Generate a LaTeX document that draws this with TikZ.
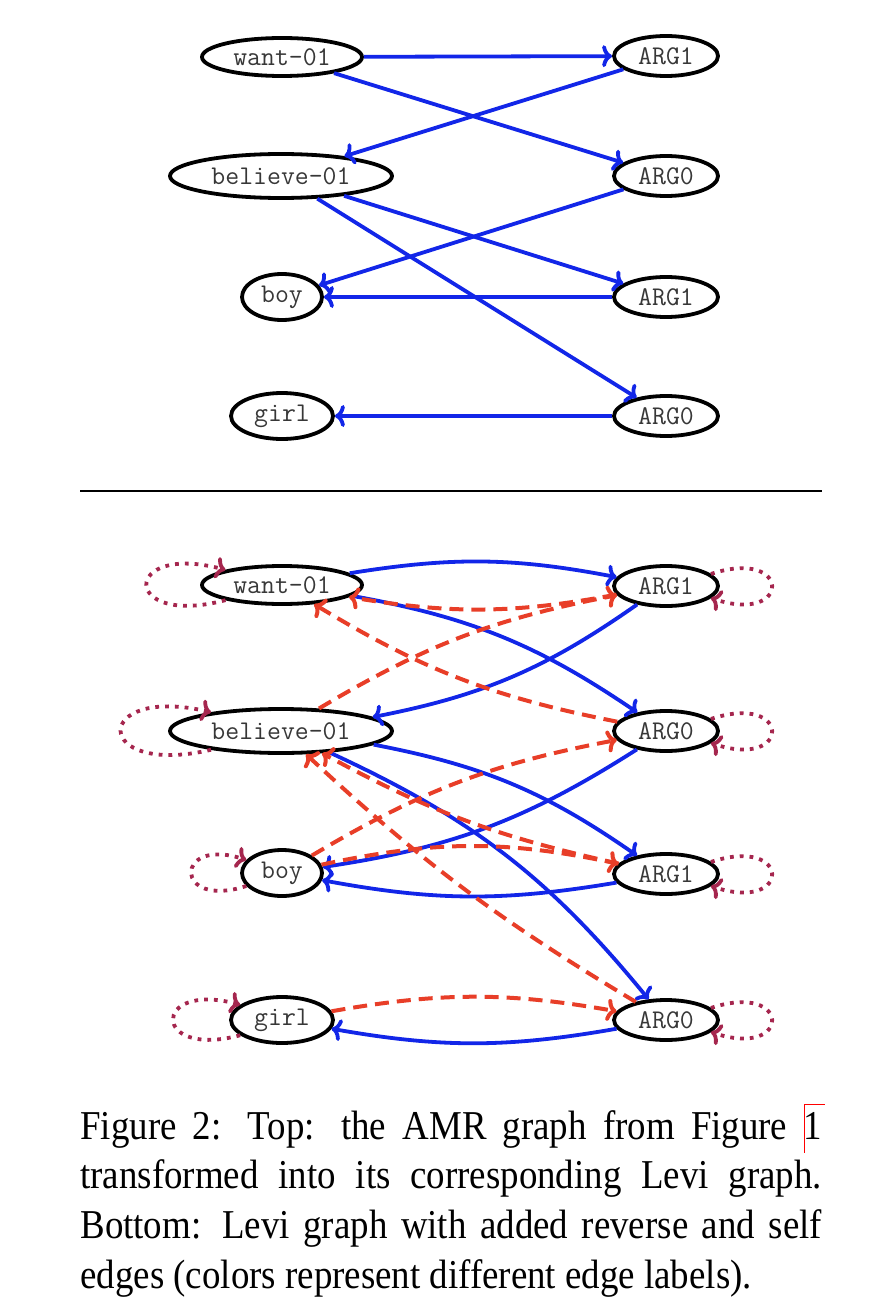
\documentclass[tikz,border=0pt]{standalone}
\usepackage{fontspec}
\setmainfont{Liberation Serif}
\usetikzlibrary{shapes.geometric,arrows.meta}
\definecolor{edgeblue}{RGB}{18,38,232}
\definecolor{edgered}{RGB}{232,62,40}
\definecolor{loopcol}{RGB}{165,38,78}
\definecolor{txtgray}{RGB}{55,55,55}
\newcommand\reflinkbox[1]{\leavevmode\rlap{\color{red}\vrule width 0.4pt height 0.85em depth 0.33em\vrule width 0.57em height 0.85em depth -0.83em}#1}
\begin{document}
\begin{tikzpicture}[x=0.5pt,y=-0.5pt,
  amr/.style={ellipse,draw=black,line width=1.9pt,inner sep=0pt,
    font=\ttfamily\fontsize{13.5}{16}\selectfont,text=txtgray},
  wantbox/.style={amr,minimum width=80pt,minimum height=19pt},
  believebox/.style={amr,minimum width=111pt,minimum height=22pt},
  boybox/.style={amr,minimum width=40pt,minimum height=23pt},
  girlbox/.style={amr,minimum width=51pt,minimum height=23pt},
  argbox/.style={amr,minimum width=52pt,minimum height=20pt},
  tip/.style={-{Computer Modern Rightarrow[length=5pt,width=11pt]}},
  fwd/.style={draw=edgeblue,line width=1.9pt,tip},
  rev/.style={draw=edgered,line width=2pt,dash pattern=on 7pt off 4pt,tip},
  selfedge/.style={draw=loopcol,line width=1.9pt,dash pattern=on 1.9pt off 3pt,tip},
]
\useasboundingbox (0,0) rectangle (878,1316);

% ---------- top: Levi graph ----------
\node[wantbox]    (tw)   at (282,57)  {want-01};
\node[argbox]     (ta1)  at (666,56)  {ARG1};
\node[believebox] (tb)   at (281,176) {believe-01};
\node[argbox]     (ta0)  at (666,176) {ARG0};
\node[boybox]     (tboy) at (282,297) {boy};
\node[argbox]     (ta1b) at (666,297) {ARG1};
\node[girlbox]    (tgirl) at (282,416) {girl};
\node[argbox]     (ta0b) at (666,416) {ARG0};

\draw[fwd] (tw) -- (ta1);
\draw[fwd] (tw) -- (ta0);
\draw[fwd] (ta1) -- (tb);
\draw[fwd] (ta0) -- (tboy);
\draw[fwd] (tb) -- (ta1b);
\draw[fwd] (ta1b) -- (tboy);
\draw[fwd] (tb) -- (ta0b);
\draw[fwd] (ta0b) -- (tgirl);

% ---------- divider ----------
\draw[line width=0.75pt] (80,491) -- (822,491);

% ---------- bottom: Levi graph with reverse and self edges ----------
\node[wantbox]    (bw)    at (282,585)  {want-01};
\node[argbox]     (ba1)   at (666,586)  {ARG1};
\node[believebox] (bb)    at (281,731)  {believe-01};
\node[argbox]     (ba0)   at (666,731)  {ARG0};
\node[boybox]     (bboy)  at (282,873)  {boy};
\node[argbox]     (ba1b)  at (666,874)  {ARG1};
\node[girlbox]    (bgirl) at (282,1020) {girl};
\node[argbox]     (ba0b)  at (666,1020) {ARG0};

% forward edges
\draw[fwd] (bw) to[bend left=10] (ba1);
\draw[fwd] (bw) to[bend left=12] (ba0);
\draw[fwd] (ba1) to[bend left=12] (bb);
\draw[fwd] (ba0) to[bend left=12] (bboy);
\draw[fwd] (bb) to[bend left=12] (ba1b);
\draw[fwd] (ba1b) to[bend left=10] (bboy);
\draw[fwd] (bb) to[bend left=13] (ba0b);
\draw[fwd] (ba0b) to[bend left=10] (bgirl);

% reverse edges
\draw[rev] (ba1) to[bend left=10] (bw);
\draw[rev] (bb) to[bend left=10] (ba1);
\draw[rev] (ba0) to[bend left=10] (bw);
\draw[rev] (bboy) to[bend left=10] (ba0);
\draw[rev] (ba1b) to[bend left=8] (bb);
\draw[rev] (bboy) to[bend left=12] (ba1b);
\draw[rev] (ba0b) to[bend left=6] (bb);
\draw[rev] (bgirl) to[bend left=10] (ba0b);

% self edges
\draw[selfedge] (bw.195) .. controls +(-105,28) and +(-105,-28) .. (bw.165);
\draw[selfedge] (bb.195) .. controls +(-120,28) and +(-120,-28) .. (bb.165);
\draw[selfedge] (bboy.200) .. controls +(-73,24) and +(-73,-24) .. (bboy.160);
\draw[selfedge] (bgirl.200) .. controls +(-89,24) and +(-89,-24) .. (bgirl.160);
\draw[selfedge] (ba1.15) .. controls +(81,-27) and +(81,27) .. (ba1.-15);
\draw[selfedge] (ba0.15) .. controls +(81,-27) and +(81,27) .. (ba0.-15);
\draw[selfedge] (ba1b.15) .. controls +(81,-27) and +(81,27) .. (ba1b.-15);
\draw[selfedge] (ba0b.15) .. controls +(81,-27) and +(81,27) .. (ba0b.-15);

% ---------- caption ----------
\node[anchor=base west,inner sep=0pt] (cap) at (80,1139)
  {\scalebox{0.9}[1]{\parbox[t]{412pt}{\fontsize{20.5}{24.85}\selectfont
  Figure 2: Top: the AMR graph from Figure \reflinkbox{1}\linebreak
  transformed into its corresponding Levi graph.\linebreak
  Bottom: Levi graph with added reverse and self\linebreak
  edges (colors represent different edge labels).}}};
\end{tikzpicture}
\end{document}
